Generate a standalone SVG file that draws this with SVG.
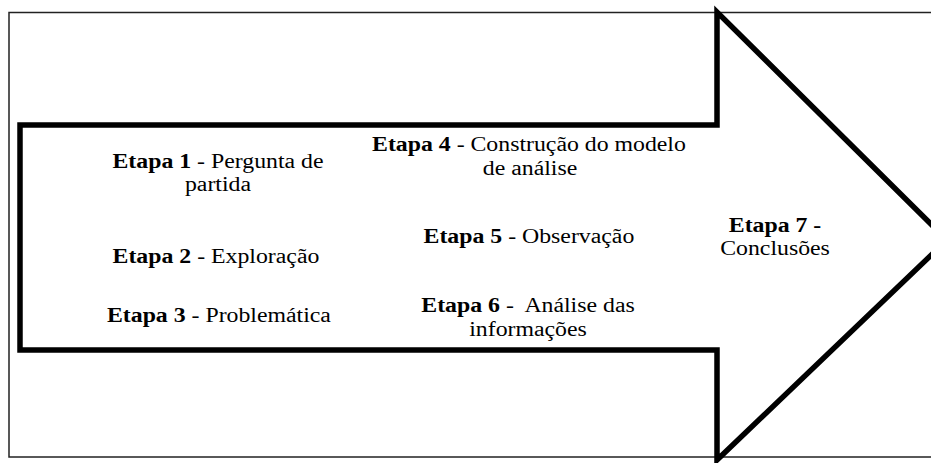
<svg xmlns="http://www.w3.org/2000/svg" width="931" height="463" viewBox="0 0 931 463">
<style>
.frame{fill:none;stroke:#222;stroke-width:1.5}
.arrow{fill:#fff;stroke:#000;stroke-width:5.5;stroke-linejoin:miter}
text{font-family:"Liberation Serif","Times New Roman",serif;font-size:20px;fill:#000;text-anchor:middle;white-space:pre}
.b{font-weight:bold}
</style>
<rect width="931" height="463" fill="#fff"/>
<g id="connectors">
<rect class="frame" x="9" y="12.5" width="930" height="444.5"/>
<polygon class="arrow" points="20,125 717,125 717,12 947,240 717,460 717,350 20,350"/>
</g>
<g transform="scale(1.19 1)">
<g id="etapa1">
<text x="183.2" y="168"><tspan class="b">Etapa 1</tspan> - Pergunta de</text>
<text x="183.2" y="191">partida</text>
</g>
<g id="etapa2">
<text x="181.5" y="263"><tspan class="b">Etapa 2</tspan> - Exploração</text>
</g>
<g id="etapa3">
<text x="184" y="322"><tspan class="b">Etapa 3</tspan> - Problemática</text>
</g>
<g id="etapa4">
<text x="444.5" y="151"><tspan class="b">Etapa 4</tspan> - Construção do modelo</text>
<text x="445.4" y="175">de análise</text>
</g>
<g id="etapa5">
<text x="444.5" y="243"><tspan class="b">Etapa 5</tspan> - Observação</text>
</g>
<g id="etapa6">
<text x="443.7" y="312"><tspan class="b">Etapa 6</tspan> -  Análise das</text>
<text x="443.7" y="336">informações</text>
</g>
<g id="etapa7">
<text x="651.3" y="232" class="b">Etapa 7 -</text>
<text x="651.3" y="255">Conclusões</text>
</g>
</g>
</svg>
